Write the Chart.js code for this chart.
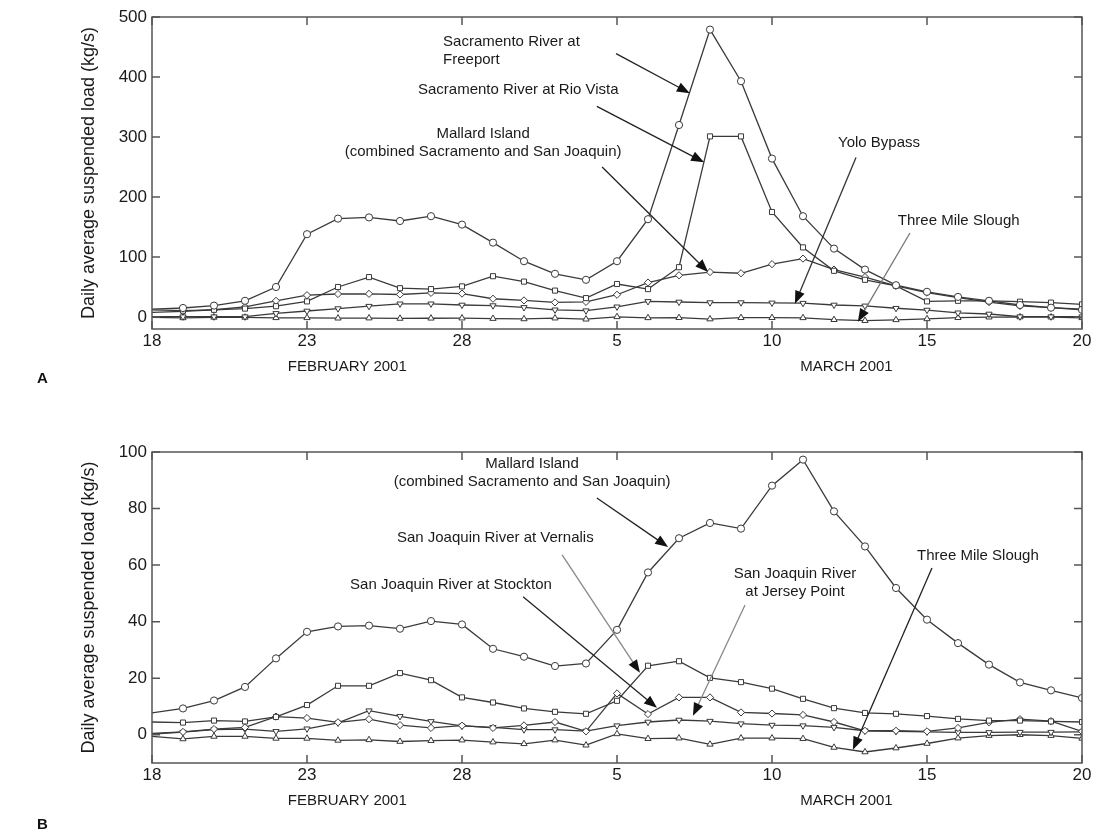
<!DOCTYPE html>
<html>
<head>
<meta charset="utf-8">
<script src="https://cdn.jsdelivr.net/npm/chart.js@4.4.1/dist/chart.umd.min.js"></script>
<style>
  body { margin: 0; background: #fff; font-family: "Liberation Sans", Arial, sans-serif; }
  #wrap { position: relative; width: 1095px; height: 837px; }
  .panel { position: absolute; left: 0; width: 1095px; }
  .letter { position: absolute; left: 37px; font-weight: bold; font-size: 15px; color: #111; }
</style>
</head>
<body>
<div id="wrap">
  <div class="panel" style="top:0;height:400px"><canvas id="chartA"></canvas></div>
  <div class="panel" style="top:400px;height:437px"><canvas id="chartB"></canvas></div>
  <div class="letter" style="top:369px">A</div>
  <div class="letter" style="top:815px">B</div>
</div>
<script>
// days from 18 February to 20 March 2001 (x = position in this list)
const dayOfMonth = [18, 19, 20, 21, 22, 23, 24, 25, 26, 27, 28, 1, 2, 3, 4, 5, 6, 7, 8, 9, 10, 11, 12, 13, 14, 15, 16, 17, 18, 19, 20];
const xTickPos = [0, 5, 10, 15, 20, 25, 30];
const xTickLabels = ["18", "23", "28", "5", "10", "15", "20"];
const monthLabels = ["FEBRUARY 2001", "MARCH 2001"];
const monthLabelPos = [6.3, 22.4];

const yTicksA = [0, 100, 200, 300, 400, 500];
const yTicksB = [0, 20, 40, 60, 80, 100];

// daily average suspended load, kg/s
const freeport = [13, 15, 19, 27, 50, 138, 164, 166, 160, 168, 154, 124, 93, 72, 62, 93, 163, 320, 479, 393, 264, 168, 114, 79, 53, 42, 33.5, 27, 20, 15.5, 12];
const rioVista = [12, 10.5, 12, 14, 18, 26, 50, 66.5, 48, 46.5, 51, 68, 59, 44, 31.5, 55, 46.5, 83, 301, 301, 175, 116, 77, 62, 52, 26, 27, 27, 25.5, 24, 21];
const yoloBypass = [0.5, 0.5, 0.5, 0.5, 6, 10, 14, 18, 22, 22, 20, 19, 16, 12, 10.5, 17, 26, 25, 24, 24, 23.5, 23, 20, 18.5, 14.6, 11.6, 7, 5, 0.5, 0.5, 0.5];
const mallard = [7.7, 9.3, 12.1, 16.9, 27, 36.4, 38.3, 38.6, 37.5, 40.2, 39, 30.4, 27.6, 24.3, 25.2, 37.1, 57.4, 69.5, 74.9, 72.9, 88.1, 97.3, 79, 66.6, 51.9, 40.7, 32.4, 24.8, 18.5, 15.7, 13];
const vernalis = [4.5, 4.3, 5, 4.7, 6.3, 10.5, 17.3, 17.3, 21.8, 19.3, 13.2, 11.4, 9.3, 8.1, 7.4, 12, 24.4, 26, 20.1, 18.6, 16.3, 12.7, 9.4, 7.7, 7.4, 6.6, 5.6, 5, 5, 4.7, 4.5];
const stockton = [0.5, 1, 2, 2.6, 6.4, 5.9, 4.4, 5.5, 3.4, 2.4, 3.2, 2.4, 3.3, 4.5, 1.2, 14.6, 7.3, 13.2, 13.2, 7.9, 7.5, 7, 4.5, 1.4, 1.4, 1.2, 2.4, 4.4, 5.5, 4.8, 1.2];
const jerseyPoint = [0.2, 0.9, 1.8, 2, 1.2, 2.1, 4.2, 8.5, 6.5, 4.7, 3.1, 2.6, 1.8, 1.8, 1.3, 3.2, 4.5, 5.2, 4.8, 3.9, 3.4, 3.2, 2.6, 1.4, 1.2, 1, 0.8, 0.8, 0.9, 0.9, 1];
const threeMile = [-0.6, -1.5, -0.6, -0.6, -1.3, -1.3, -2, -1.8, -2.4, -2.1, -1.9, -2.6, -3.2, -1.9, -3.7, 0.3, -1.4, -1.2, -3.4, -1.2, -1.2, -1.4, -4.5, -6.1, -4.7, -3.1, -1.2, -0.3, 0, -0.3, -1.3];

// labels: [text lines, x, y, align]   arrows: [x1, y1, x2, y2, colour]
const notesA = [
  [["Sacramento River at", "Freeport"], 9.39, 458, "left"],
  [["Sacramento River at Rio Vista"], 8.58, 379, "left"],
  [["Mallard Island", "(combined Sacramento and San Joaquin)"], 10.68, 306, "center"],
  [["Yolo Bypass"], 22.13, 290, "left"],
  [["Three Mile Slough"], 24.06, 160, "left"]
];
const arrowsA = [
  [14.97, 439, 17.35, 373, "#222"],
  [14.35, 351, 17.81, 258, "#222"],
  [14.52, 250, 17.94, 75, "#222"],
  [22.71, 266, 20.74, 22, "#333"],
  [24.45, 140, 22.77, -8, "#777"]
];
const notesB = [
  [["Mallard Island", "(combined Sacramento and San Joaquin)"], 12.26, 95.8, "center"],
  [["San Joaquin River at Vernalis"], 7.9, 69.6, "left"],
  [["San Joaquin River at Stockton"], 6.39, 53, "left"],
  [["San Joaquin River", "at Jersey Point"], 20.74, 56.9, "center"],
  [["Three Mile Slough"], 24.68, 63.3, "left"]
];
const arrowsB = [
  [14.35, 83.7, 16.65, 66.4, "#222"],
  [13.23, 63.6, 15.74, 21.9, "#888"],
  [11.97, 48.8, 16.29, 9.5, "#222"],
  [19.13, 45.9, 17.45, 6.7, "#888"],
  [25.16, 59, 22.61, -5.3, "#222"]
];

const FONT = "'Liberation Sans', Arial, sans-serif";

function series(vals, style, rotation) {
  return {
    data: vals.map((v, i) => ({ x: i, y: v })),
    borderColor: "#3a3a3a",
    borderWidth: 1.3,
    pointStyle: style,
    pointRotation: rotation || 0,
    pointRadius: (c) => (c.dataIndex === 0 ? 0 : 3.6),
    pointBorderWidth: 1,
    pointBorderColor: "#3a3a3a",
    pointBackgroundColor: "#fff",
    tension: 0,
    fill: false
  };
}

const framePlugin = {
  id: "frame",
  afterDraw(chart, args, opts) {
    const { ctx, chartArea: a, scales } = chart;
    const x = scales.x, y = scales.y;
    ctx.save();
    ctx.strokeStyle = "#555";
    ctx.lineWidth = 1.5;
    ctx.strokeRect(a.left, a.top, a.right - a.left, a.bottom - a.top);
    ctx.beginPath();
    x.ticks.forEach((t) => {
      const px = x.getPixelForValue(t.value);
      ctx.moveTo(px, a.bottom); ctx.lineTo(px, a.bottom - 8);
      ctx.moveTo(px, a.top); ctx.lineTo(px, a.top + 8);
    });
    y.ticks.forEach((t) => {
      const py = y.getPixelForValue(t.value);
      ctx.moveTo(a.left, py); ctx.lineTo(a.left + 8, py);
      ctx.moveTo(a.right, py); ctx.lineTo(a.right - 8, py);
    });
    ctx.stroke();

    // month labels under the axis
    ctx.fillStyle = "#1a1a1a";
    ctx.font = "15px " + FONT;
    ctx.textAlign = "center";
    ctx.textBaseline = "middle";
    monthLabels.forEach((m, i) => {
      ctx.fillText(m, x.getPixelForValue(monthLabelPos[i]), a.bottom + 38);
    });

    // text notes
    ctx.font = "15px " + FONT;
    opts.notes.forEach(([lines, nx, ny, align]) => {
      ctx.textAlign = align;
      lines.forEach((ln, k) => {
        ctx.fillText(ln, x.getPixelForValue(nx), y.getPixelForValue(ny) + k * 18);
      });
    });

    // arrows
    opts.arrows.forEach(([x1, y1, x2, y2, col]) => {
      const p1 = [x.getPixelForValue(x1), y.getPixelForValue(y1)];
      const p2 = [x.getPixelForValue(x2), y.getPixelForValue(y2)];
      const ang = Math.atan2(p2[1] - p1[1], p2[0] - p1[0]);
      ctx.strokeStyle = col;
      ctx.fillStyle = "#111";
      ctx.lineWidth = 1.3;
      ctx.beginPath();
      ctx.moveTo(p1[0], p1[1]);
      ctx.lineTo(p2[0] - 10 * Math.cos(ang), p2[1] - 10 * Math.sin(ang));
      ctx.stroke();
      ctx.beginPath();
      ctx.moveTo(p2[0], p2[1]);
      ctx.lineTo(p2[0] - 13 * Math.cos(ang) + 5 * Math.sin(ang), p2[1] - 13 * Math.sin(ang) - 5 * Math.cos(ang));
      ctx.lineTo(p2[0] - 13 * Math.cos(ang) - 5 * Math.sin(ang), p2[1] - 13 * Math.sin(ang) + 5 * Math.cos(ang));
      ctx.closePath();
      ctx.fill();
    });
    ctx.restore();
  }
};

function makeChart(id, datasets, yMin, yMax, yTicks, notes, arrows, pad) {
  return new Chart(document.getElementById(id), {
    type: "line",
    data: { datasets },
    options: {
      responsive: true,
      maintainAspectRatio: false,
      animation: false,
      layout: { padding: pad },
      scales: {
        x: {
          type: "linear",
          min: 0,
          max: 30,
          afterBuildTicks: (ax) => { ax.ticks = xTickPos.map((v) => ({ value: v })); },
          afterFit: (ax) => { ax.height = 40; },
          ticks: {
            callback: (v) => xTickLabels[xTickPos.indexOf(v)],
            font: { size: 17, family: FONT },
            color: "#1a1a1a",
            padding: -6,
            maxRotation: 0
          },
          grid: { display: false },
          border: { display: false }
        },
        y: {
          min: yMin,
          max: yMax,
          afterBuildTicks: (ax) => { ax.ticks = yTicks.map((v) => ({ value: v })); },
          afterFit: (ax) => { ax.width = 76; },
          ticks: {
            font: { size: 17, family: FONT },
            color: "#1a1a1a",
            padding: -3
          },
          title: {
            display: true,
            text: "Daily average suspended load (kg/s)",
            font: { size: 18, family: FONT },
            color: "#1a1a1a",
            padding: { top: 2, bottom: 0 }
          },
          grid: { display: false },
          border: { display: false }
        }
      },
      plugins: {
        legend: { display: false },
        tooltip: { enabled: false },
        frame: { notes, arrows }
      }
    },
    plugins: [framePlugin]
  });
}

window.onload = function () {
  makeChart("chartA", [
    series(freeport, "circle"),
    series(rioVista, "rect"),
    series(mallard, "rectRot"),
    series(yoloBypass, "triangle", 180),
    series(threeMile, "triangle")
  ], -20, 500, yTicksA, notesA, arrowsA, { left: 76, right: 13, top: 17, bottom: 31 });

  makeChart("chartB", [
    series(mallard, "circle"),
    series(vernalis, "rect"),
    series(stockton, "rectRot"),
    series(jerseyPoint, "triangle", 180),
    series(threeMile, "triangle")
  ], -10, 100, yTicksB, notesB, arrowsB, { left: 76, right: 13, top: 52, bottom: 34 });
};
</script>
</body>
</html>
